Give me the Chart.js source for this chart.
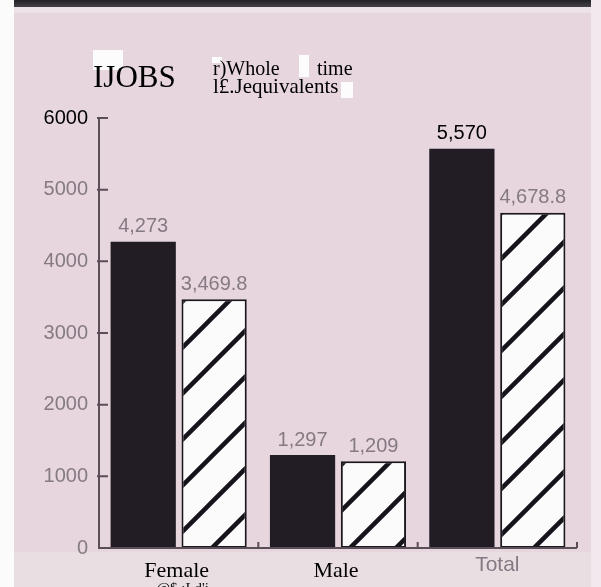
<!DOCTYPE html>
<html>
<head>
<meta charset="utf-8">
<script src="https://cdn.jsdelivr.net/npm/chart.js@4/dist/chart.umd.min.js"></script>
<style>
  html, body { margin: 0; padding: 0; background: #fbfbfb; }
  #wrap { width: 601px; height: 587px; }
</style>
</head>
<body>
<div id="wrap"><canvas id="c" width="601" height="587"></canvas></div>
<script>
// ---- data ----
const categories = ['Female', 'Male', 'Total'];
const jobs = [4273, 1297, 5570];
const wholeTimeEquivalents = [3469.8, 1209, 4678.8];
const yTicks = [0, 1000, 2000, 3000, 4000, 5000, 6000];
const yMin = 0, yMax = 6000, yStep = 1000;

const fmt = new Intl.NumberFormat('en-US', { maximumFractionDigits: 1 });

const canvas = document.getElementById('c');
const ctx0 = canvas.getContext('2d');

// hatch pattern (diagonal "/" lines)
const hatch = (() => {
  const s = 46;
  const t = document.createElement('canvas');
  t.width = s; t.height = s;
  const g = t.getContext('2d');
  g.fillStyle = '#fbfbfb';
  g.fillRect(0, 0, s, s);
  g.strokeStyle = '#17131b';
  g.lineWidth = 4.5;
  g.beginPath();
  for (const m of [0, 1, 2]) {
    g.moveTo(-s, m * s + s);
    g.lineTo(2 * s, m * s - 2 * s);
  }
  g.stroke();
  const p = ctx0.createPattern(t, 'repeat');
  p.setTransform(new DOMMatrix([1, 0, 0, 1, 24, 0]));
  return p;
})();

const AXIS = '#5a4f58';
const GREY = '#857a83';

const backdrop = {
  id: 'backdrop',
  beforeDraw(chart) {
    const c = chart.ctx;
    c.save();
    c.fillStyle = '#fbfbfb';
    c.fillRect(0, 0, 601, 587);
    // pink panel
    c.fillStyle = '#e7d6de';
    c.fillRect(14, 0, 577, 587);
    c.fillStyle = '#e9dee2';
    c.fillRect(14, 552, 577, 35);
    c.fillStyle = '#f1e9ed';
    c.fillRect(591, 0, 10, 587);
    c.fillStyle = '#ece3e8';
    c.fillRect(14, 7, 577, 6);
    // dark top band
    const gr = c.createLinearGradient(0, 0, 0, 8);
    gr.addColorStop(0, '#222126');
    gr.addColorStop(1, '#47454b');
    c.fillStyle = gr;
    c.fillRect(14, 0, 577, 7);
    // white OCR patches
    c.fillStyle = '#fdfcfd';
    c.fillRect(93, 50, 30, 20);
    c.fillRect(299, 55, 10, 22);
    c.fillRect(341, 82, 12, 16);
    c.fillRect(212, 57, 10, 6);
    // header texts
    c.fillStyle = '#000';
    c.textBaseline = 'alphabetic';
    c.textAlign = 'left';
    c.font = '31px "Liberation Serif"';
    c.fillText('IJOBS', 93, 87);
    c.font = '20px "Liberation Serif"';
    c.fillText('r)Whole', 213, 75);
    c.fillText('time', 317, 75);
    c.font = '21px "Liberation Serif"';
    c.fillText('l£.Jequivalents', 213, 93);
    c.restore();
  },
  afterDraw(chart) {
    const c = chart.ctx;
    const xs = chart.scales.x, ys = chart.scales.y;
    const area = chart.chartArea;
    c.save();
    // axes
    c.strokeStyle = AXIS;
    c.lineWidth = 2;
    c.beginPath();
    c.moveTo(area.left, ys.getPixelForValue(yMax));
    c.lineTo(area.left, ys.getPixelForValue(yMin));
    c.lineTo(area.right, ys.getPixelForValue(yMin));
    c.stroke();
    // inward y ticks
    c.beginPath();
    for (const v of yTicks) {
      if (v === yMin) continue;
      const y = ys.getPixelForValue(v);
      c.moveTo(area.left - 2, y);
      c.lineTo(area.left + 9, y);
    }
    c.stroke();
    // x boundary ticks
    const half = (xs.getPixelForValue(1) - xs.getPixelForValue(0)) / 2;
    const yb = ys.getPixelForValue(yMin);
    c.beginPath();
    for (let i = 0; i < categories.length; i++) {
      const x = xs.getPixelForValue(i) + half;
      c.moveTo(x, yb);
      c.lineTo(x, yb - 6);
    }
    c.stroke();
    // category labels
    c.textAlign = 'center';
    c.textBaseline = 'alphabetic';
    categories.forEach((lab, i) => {
      const x = xs.getPixelForValue(i);
      if (lab === 'Total') {
        c.save();
        c.filter = 'blur(0.5px)';
        c.fillStyle = GREY;
        c.font = '21px "Liberation Sans"';
        c.fillText(lab, x, yb + 23);
        c.restore();
      } else {
        c.fillStyle = '#000';
        c.font = '22px "Liberation Serif"';
        c.fillText(lab, x - 2, yb + 29);
      }
    });
    // stray OCR text under Female
    c.fillStyle = '#111';
    c.textAlign = 'left';
    c.textBaseline = 'top';
    c.font = '15px "Liberation Serif"';
    c.fillText('. @$.:Ld\'i', xs.getPixelForValue(0) - 30, yb + 34);
    // value labels
    c.textAlign = 'center';
    c.textBaseline = 'middle';
    chart.data.datasets.forEach((ds, di) => {
      const meta = chart.getDatasetMeta(di);
      meta.data.forEach((bar, i) => {
        const txt = fmt.format(ds.data[i]);
        c.save();
        if (di === 0 && i === 2) {
          c.fillStyle = '#000';
          c.font = '20px "Liberation Sans"';
        } else {
          c.filter = 'blur(0.5px)';
          c.fillStyle = GREY;
          c.font = '20px "Liberation Sans"';
        }
        c.fillText(txt, bar.x, bar.y - 15);
        c.restore();
      });
    });
    c.restore();
  }
};

new Chart(canvas, {
  type: 'bar',
  data: {
    labels: categories,
    datasets: [
      {
        label: 'Jobs',
        data: jobs,
        backgroundColor: '#221c25',
        borderWidth: 0,
        categoryPercentage: 0.89,
        barPercentage: 0.92
      },
      {
        label: 'Whole time equivalents',
        data: wholeTimeEquivalents,
        backgroundColor: hatch,
        borderColor: '#1b171e',
        borderWidth: 2,
        borderSkipped: false,
        categoryPercentage: 0.89,
        barPercentage: 0.92
      }
    ]
  },
  options: {
    responsive: false,
    animation: false,
    devicePixelRatio: 1,
    layout: { padding: { top: 118, right: 24, left: 0, bottom: 0 } },
    plugins: { legend: { display: false }, tooltip: { enabled: false } },
    scales: {
      x: {
        grid: { display: false },
        border: { display: false },
        ticks: { display: false },
        afterFit(s) { s.height = 39; }
      },
      y: {
        min: yMin,
        max: yMax,
        grid: { display: false, drawTicks: false },
        border: { display: false },
        afterFit(s) { s.width = 99; },
        afterBuildTicks(s) { s.ticks = yTicks.map(v => ({ value: v })); },
        ticks: {
          stepSize: yStep,
          padding: 11,
          callback: v => String(v),
          color: (ctx) => (ctx.tick && ctx.tick.value === 6000) ? '#000' : GREY,
          font: (ctx) => ({ family: 'Liberation Sans', size: 20 })
        }
      }
    }
  },
  plugins: [backdrop]
});
</script>
</body>
</html>
